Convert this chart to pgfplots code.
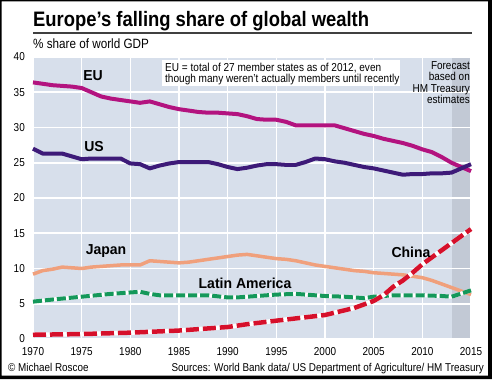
\documentclass[border=0pt]{standalone}
\usepackage{pgfplots}
\pgfplotsset{compat=1.18}
\usepackage{fontspec}
\setmainfont{Liberation Sans}[FakeStretch=0.87]
\newfontfamily\titlefont{Liberation Sans}[FakeStretch=0.88]
\newfontfamily\labfont{Liberation Sans}[FakeStretch=0.97]
\definecolor{bgblue}{HTML}{D7DFEB}
\definecolor{fcast}{HTML}{C2C9D5}
\definecolor{eucol}{HTML}{B3137F}
\definecolor{uscol}{HTML}{3D1A78}
\definecolor{jpcol}{HTML}{F0A07C}
\definecolor{lacol}{HTML}{14985A}
\definecolor{cncol}{HTML}{D6102B}
\pgfplotsset{set layers}
\begin{document}
\begin{tikzpicture}[x=1bp,y=1bp]
\begin{axis}[
  at={(33bp,40bp)}, anchor=south west,
  scale only axis, width=438bp, height=282bp,
  xmin=1970, xmax=2015, ymin=0, ymax=40,
  xtick={1970,1975,...,2015}, ytick={0,5,...,40},
  axis line style={draw=none}, major tick length=0pt,
  grid=major, major grid style={white, line width=1.6bp},
  /pgf/number format/assume math mode=true,
  /pgf/number format/1000 sep={},
  tick label style={font=\fontsize{11.5}{13}\selectfont, inner sep=1bp},
  xticklabel style={yshift=-7bp},
  yticklabel style={xshift=-7bp},
  clip=false,
]
\begin{pgfonlayer}{axis background}
\fill[bgblue] (axis cs:1970,0) rectangle (axis cs:2015,40);
\fill[fcast] (axis cs:2013,0) rectangle (axis cs:2015,40);
\end{pgfonlayer}
% EU
\addplot[eucol, line width=4bp, line join=round] coordinates {
(1970,36.4)(1971,36.2)(1972,36.0)(1973,35.9)(1974,35.8)(1975,35.6)(1976,35.0)(1977,34.4)(1978,34.1)(1979,33.9)
(1980,33.7)(1981,33.5)(1982,33.7)(1983,33.3)(1984,32.9)(1985,32.6)(1986,32.4)(1987,32.2)(1988,32.1)(1989,32.1)
(1990,32.0)(1991,31.9)(1992,31.6)(1993,31.2)(1994,31.1)(1995,31.1)(1996,30.8)(1997,30.3)(1998,30.3)(1999,30.3)
(2000,30.3)(2001,30.3)(2002,29.9)(2003,29.5)(2004,29.1)(2005,28.8)(2006,28.4)(2007,28.1)(2008,27.8)(2009,27.4)
(2010,26.9)(2011,26.5)(2012,25.8)(2013,25.0)(2014,24.4)(2015,23.8)};
% US
\addplot[uscol, line width=4bp, line join=round] coordinates {
(1970,27.0)(1971,26.3)(1972,26.3)(1973,26.3)(1974,25.9)(1975,25.5)(1976,25.6)(1977,25.6)(1978,25.6)(1979,25.6)
(1980,24.9)(1981,24.8)(1982,24.2)(1983,24.6)(1984,24.9)(1985,25.1)(1986,25.1)(1987,25.1)(1988,25.1)(1989,24.8)
(1990,24.4)(1991,24.1)(1992,24.3)(1993,24.6)(1994,24.8)(1995,24.8)(1996,24.7)(1997,24.7)(1998,25.1)(1999,25.6)
(2000,25.5)(2001,25.2)(2002,25.0)(2003,24.7)(2004,24.4)(2005,24.2)(2006,23.9)(2007,23.6)(2008,23.3)(2009,23.4)
(2010,23.4)(2011,23.5)(2012,23.5)(2013,23.6)(2014,24.2)(2015,24.8)};
% Japan
\addplot[jpcol, line width=3.5bp, line join=round] coordinates {
(1970,9.2)(1971,9.7)(1972,9.9)(1973,10.2)(1974,10.1)(1975,10.0)(1976,10.2)(1977,10.3)(1978,10.4)(1979,10.5)
(1980,10.5)(1981,10.5)(1982,11.1)(1983,11.0)(1984,10.9)(1985,10.8)(1986,10.9)(1987,11.1)(1988,11.3)(1989,11.5)
(1990,11.7)(1991,11.9)(1992,12.0)(1993,11.8)(1994,11.6)(1995,11.4)(1996,11.3)(1997,11.1)(1998,10.8)(1999,10.5)
(2000,10.3)(2001,10.1)(2002,9.9)(2003,9.7)(2004,9.6)(2005,9.4)(2006,9.3)(2007,9.2)(2008,9.1)(2009,8.9)
(2010,8.7)(2011,8.3)(2012,7.8)(2013,7.3)(2014,6.8)(2015,6.3)};
% Latin America
\addplot[white, line width=4bp, line join=round] coordinates {
(1970,5.3)(1972,5.6)(1975,6.0)(1978,6.4)(1980,6.6)(1981,6.7)(1982,6.4)(1983,6.2)(1985,6.2)(1988,6.2)
(1990,5.9)(1991,5.9)(1993,6.1)(1995,6.3)(1997,6.4)(1998,6.3)(2000,6.1)(2002,6.0)(2004,5.8)(2005,6.0)
(2007,6.2)(2010,6.2)(2012,6.1)(2013,6.0)(2015,6.9)};
\addplot[lacol, line width=4bp, dash pattern=on 9bp off 3bp] coordinates {
(1970,5.3)(1972,5.6)(1975,6.0)(1978,6.4)(1980,6.6)(1981,6.7)(1982,6.4)(1983,6.2)(1985,6.2)(1988,6.2)
(1990,5.9)(1991,5.9)(1993,6.1)(1995,6.3)(1997,6.4)(1998,6.3)(2000,6.1)(2002,6.0)(2004,5.8)(2005,6.0)
(2007,6.2)(2010,6.2)(2012,6.1)(2013,6.0)(2015,6.9)};
% China
\addplot[white, line width=4.5bp, line join=round] coordinates {
(1970,0.6)(1975,0.7)(1980,0.9)(1985,1.2)(1990,1.7)(1992,2.1)(1995,2.6)(2000,3.4)(2003,4.4)(2005,5.4)
(2006,6.2)(2007,7.4)(2008,8.3)(2009,9.4)(2010,10.6)(2011,11.6)(2012,12.6)(2013,13.6)(2014,14.6)(2015,15.6)};
\addplot[cncol, line width=4.5bp, dash pattern=on 13bp off 4bp] coordinates {
(1970,0.6)(1975,0.7)(1980,0.9)(1985,1.2)(1990,1.7)(1992,2.1)(1995,2.6)(2000,3.4)(2003,4.4)(2005,5.4)
(2006,6.2)(2007,7.4)(2008,8.3)(2009,9.4)(2010,10.6)(2011,11.6)(2012,12.6)(2013,13.6)(2014,14.6)(2015,15.6)};
\end{axis}
% frame
\fill[black, even odd rule] (0,0) rectangle (492,379) (1.5,3.5) rectangle (488,377.5);
% title
\node[anchor=base west, inner sep=0] at (33,353) {\titlefont\bfseries\fontsize{21}{24}\selectfont Europe’s falling share of global wealth};
\draw[line width=2bp, black!75] (33,346) -- (472,346);
\node[anchor=base west, inner sep=0] at (33,331) {\fontsize{13.5}{15}\selectfont \% share of world GDP};
% note box
\fill[white] (162,293) rectangle (400,319);
\node[anchor=base west, inner sep=0, font=\fontsize{11.6}{12}\selectfont] at (165,307.5) {EU = total of 27 member states as of 2012, even};
\node[anchor=base west, inner sep=0, font=\fontsize{11.6}{12}\selectfont] at (165,296.5) {though many weren’t actually members until recently};
% forecast
\node[anchor=north east, inner sep=0, align=right, font=\fontsize{11.5}{11.6}\selectfont] at (470,318) {Forecast\\based on\\HM Treasury\\estimates};
% series labels
\node[font=\labfont\bfseries\fontsize{14.5}{16}\selectfont] at (93,303) {EU};
\node[font=\labfont\bfseries\fontsize{14.5}{16}\selectfont] at (94,232) {US};
\node[font=\labfont\bfseries\fontsize{14.5}{16}\selectfont] at (106,128) {Japan};
\node[font=\labfont\bfseries\fontsize{14.5}{16}\selectfont] at (245,96) {Latin America};
\node[font=\labfont\bfseries\fontsize{14.5}{16}\selectfont] at (411,127) {China};
% footer
\node[anchor=base west, inner sep=0, font=\fontsize{11.4}{13}\selectfont] at (8,7.5) {© Michael Roscoe};
\node[anchor=base east, inner sep=0, font=\fontsize{11.4}{13}\selectfont] at (484,7.5) {Sources: World Bank data/ US Department of Agriculture/ HM Treasury};
\pgfresetboundingbox
\useasboundingbox (0,0) rectangle (492,379);
\end{tikzpicture}
\end{document}
